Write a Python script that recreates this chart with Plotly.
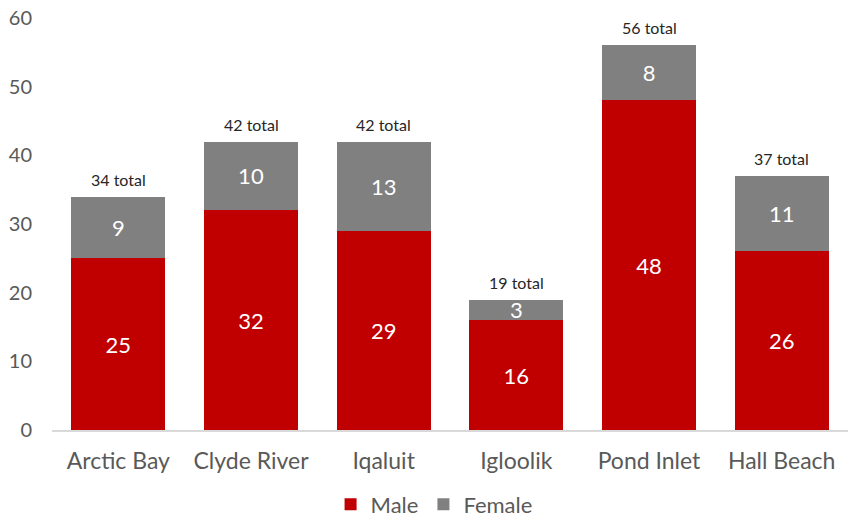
import plotly.graph_objects as go

categories = ["Arctic Bay", "Clyde River", "Iqaluit", "Igloolik", "Pond Inlet", "Hall Beach"]
male = [25, 32, 29, 16, 48, 26]
female = [9, 10, 13, 3, 8, 11]
totals = [m + f for m, f in zip(male, female)]
total_labels = [f"{t} total" for t in totals]

FONT = "Lato, Open Sans, sans-serif"

fig = go.Figure()
fig.add_trace(go.Bar(
    x=categories, y=male, name="Male",
    marker=dict(color="#C00000", line=dict(width=0)),
    text=[str(v) for v in male], textposition="inside", insidetextanchor="middle",
    textangle=0, constraintext="none",
    textfont=dict(color="white", size=22, family=FONT),
))
fig.add_trace(go.Bar(
    x=categories, y=female, name="Female",
    marker=dict(color="#808080", line=dict(width=0)),
    text=[str(v) for v in female], textposition="inside", insidetextanchor="middle",
    textangle=0, constraintext="none",
    textfont=dict(color="white", size=22, family=FONT),
))

for c, t, lab in zip(categories, totals, total_labels):
    fig.add_annotation(x=c, y=t, text=lab, showarrow=False, yanchor="bottom", yshift=6,
                       font=dict(size=16, color="#262626", family=FONT))

fig.update_layout(
    barmode="stack",
    bargap=0.29,
    width=848, height=518,
    margin=dict(l=52, r=0, t=18, b=88, autoexpand=False),
    paper_bgcolor="white", plot_bgcolor="white",
    font=dict(family=FONT, color="#595959", size=20),
    legend=dict(orientation="h", x=0.48, xanchor="center", y=-0.13, yanchor="top",
                font=dict(size=22, color="#595959"), traceorder="normal",
                itemwidth=30),
    xaxis=dict(showline=True, linecolor="#D9D9D9", linewidth=1.5, ticks="",
               automargin=False, tickfont=dict(size=23, color="#595959"),
               ticklabelstandoff=10),
    yaxis=dict(range=[0, 60], dtick=10, showgrid=False, zeroline=False, showline=False,
               automargin=False, tickfont=dict(size=20, color="#595959"),
               ticklabelstandoff=19),
)

fig.write_html("out.html", config={"displayModeBar": False},
               post_script="document.body.style.margin='0';document.body.style.padding='0';")
